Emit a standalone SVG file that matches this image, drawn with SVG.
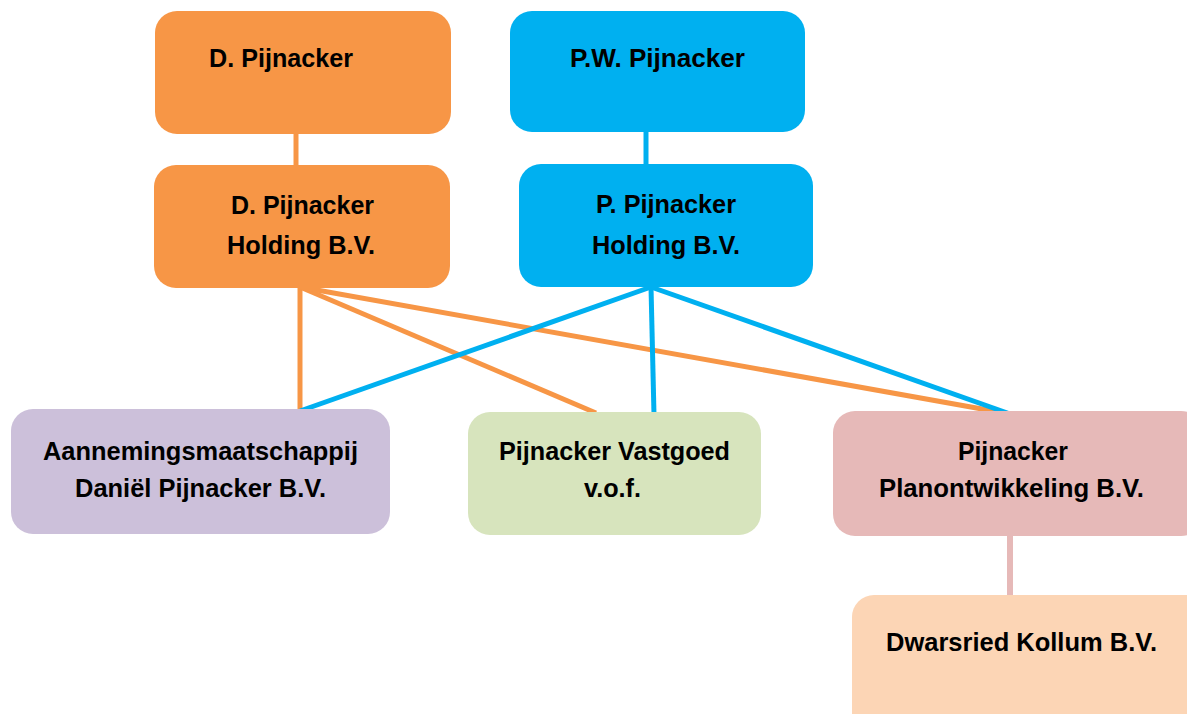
<svg xmlns="http://www.w3.org/2000/svg" width="1187" height="714" viewBox="0 0 1187 714">
<style>
text{font-family:"Liberation Sans",Arial,sans-serif;font-weight:bold;font-size:25px;fill:#000}
.or{stroke:#F79646;stroke-width:5;fill:none}
.bl{stroke:#00B0F0;stroke-width:5;fill:none}
.pk{stroke:#E6B9B8;stroke-width:6;fill:none}
</style>
<rect width="1187" height="714" fill="#fff"/>
<g id="connectors">
<line class="or" x1="296" y1="132" x2="296" y2="167"/>
<line class="bl" x1="646" y1="130" x2="646" y2="166"/>
<line class="or" x1="300" y1="286" x2="300" y2="411"/>
<line class="or" x1="300" y1="287" x2="596" y2="413"/>
<line class="or" x1="300" y1="287" x2="1010" y2="414"/>
<line class="bl" x1="651" y1="287" x2="300" y2="411"/>
<line class="bl" x1="651" y1="287" x2="654" y2="415"/>
<line class="bl" x1="651" y1="287" x2="1013" y2="415"/>
<line class="pk" x1="1010" y1="534" x2="1010" y2="602"/>
</g>
<g id="n1"><rect x="155" y="11" width="296" height="123" rx="22" fill="#F79646"/><text x="209" y="67" textLength="144" lengthAdjust="spacingAndGlyphs">D. Pijnacker</text></g>
<g id="n2"><rect x="510" y="11" width="295" height="121" rx="22" fill="#00B0F0"/><text x="570" y="67" textLength="175" lengthAdjust="spacingAndGlyphs">P.W. Pijnacker</text></g>
<g id="n3"><rect x="154" y="165" width="296" height="123" rx="22" fill="#F79646"/><text x="231" y="214" textLength="143" lengthAdjust="spacingAndGlyphs">D. Pijnacker</text><text x="227" y="254" textLength="148" lengthAdjust="spacingAndGlyphs">Holding B.V.</text></g>
<g id="n4"><rect x="519" y="164" width="294" height="123" rx="22" fill="#00B0F0"/><text x="596" y="213" textLength="140" lengthAdjust="spacingAndGlyphs">P. Pijnacker</text><text x="592" y="254" textLength="148" lengthAdjust="spacingAndGlyphs">Holding B.V.</text></g>
<g id="n5"><rect x="11" y="409" width="379" height="125" rx="22" fill="#CCC0DA"/><text x="43" y="460" textLength="315" lengthAdjust="spacingAndGlyphs">Aannemingsmaatschappij</text><text x="75" y="497" textLength="251" lengthAdjust="spacingAndGlyphs">Daniël Pijnacker B.V.</text></g>
<g id="n6"><rect x="468" y="412" width="293" height="123" rx="22" fill="#D7E4BD"/><text x="499" y="460" textLength="231" lengthAdjust="spacingAndGlyphs">Pijnacker Vastgoed</text><text x="584" y="497" textLength="57" lengthAdjust="spacingAndGlyphs">v.o.f.</text></g>
<g id="n7"><rect x="833" y="411" width="370" height="125" rx="22" fill="#E6B9B8"/><text x="958" y="460" textLength="110" lengthAdjust="spacingAndGlyphs">Pijnacker</text><text x="879" y="497" textLength="265" lengthAdjust="spacingAndGlyphs">Planontwikkeling B.V.</text></g>
<g id="n8"><rect x="852" y="595" width="360" height="140" rx="22" fill="#FCD5B5"/><text x="886" y="651" textLength="271" lengthAdjust="spacingAndGlyphs">Dwarsried Kollum B.V.</text></g>
</svg>
